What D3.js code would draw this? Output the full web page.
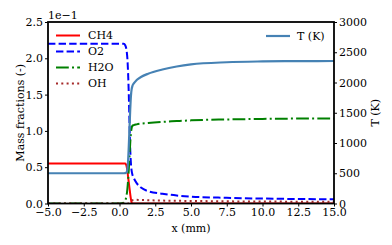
<!DOCTYPE html>
<html>
<head>
<meta charset="utf-8">
<script src="https://cdn.jsdelivr.net/npm/d3@7"></script>
<style>
  body { margin: 0; background: #fff; }
  text { font-family: "DejaVu Serif", serif; fill: #000; }
</style>
</head>
<body>
<div class="chart"></div>
<script>
// data
var xVals = [-5, 0, 0.3, 0.4, 0.5, 0.55, 0.6, 0.65, 0.7, 0.75, 0.8, 0.85, 0.9, 1.0, 1.2, 1.5, 2, 3, 4, 5, 7.5, 10, 12.5, 15];
var ch4 = [0.055, 0.055, 0.055, 0.055, 0.051, 0.045, 0.037, 0.029, 0.021, 0.013, 0.006, 0.001, 0, 0, 0, 0, 0, 0, 0, 0, 0, 0, 0, 0];
var o2  = [0.22, 0.22, 0.22, 0.218, 0.21, 0.2, 0.18, 0.15, 0.11, 0.075, 0.055, 0.045, 0.04, 0.035, 0.028, 0.022, 0.017, 0.0135, 0.011, 0.0095, 0.0078, 0.0068, 0.0062, 0.0058];
var h2o = [0, 0, 0.001, 0.004, 0.012, 0.02, 0.032, 0.047, 0.065, 0.083, 0.097, 0.104, 0.107, 0.108, 0.109, 0.110, 0.111, 0.1125, 0.1135, 0.1145, 0.1158, 0.1165, 0.117, 0.1172];
var oh  = [0, 0, 0, 0, 0, 0, 0, 0, 0.0005, 0.0015, 0.003, 0.004, 0.0045, 0.005, 0.005, 0.0048, 0.0045, 0.004, 0.0037, 0.0035, 0.003, 0.0027, 0.0025, 0.0023];
var temp = [500, 500, 500, 502, 515, 560, 700, 950, 1250, 1550, 1780, 1890, 1940, 1985, 2040, 2090, 2145, 2215, 2265, 2300, 2335, 2348, 2353, 2355];

var xTicks = [-5, -2.5, 0, 2.5, 5, 7.5, 10, 12.5, 15];
var yTicks = [0, 0.05, 0.1, 0.15, 0.2, 0.25];
var tTicks = [0, 500, 1000, 1500, 2000, 2500, 3000];

var species = [
  { name: "CH4", values: ch4, color: "#ff0000", dash: null },
  { name: "O2", values: o2, color: "#0000ff", dash: "7.4,3.2" },
  { name: "H2O", values: h2o, color: "#008000", dash: "12.8,3.2,2,3.2" },
  { name: "OH", values: oh, color: "#a52a2a", dash: "2,3.3" }
];

var svgWidth = 392, svgHeight = 245;
var margin = { top: 22, bottom: 41.5, left: 48, right: 58 };
var width = svgWidth - margin.left - margin.right;
var height = svgHeight - margin.top - margin.bottom;
var minus = s => s.replace("-", "\u2212");

var svg = d3.select(".chart").append("svg")
  .attr("width", svgWidth)
  .attr("height", svgHeight);

var chartGroup = svg.append("g")
  .attr("transform", `translate(${margin.left}, ${margin.top})`);

var xScale = d3.scaleLinear().domain([-5, 15]).range([0, width]);
var yScale = d3.scaleLinear().domain([0, 0.25]).range([height, 0]);
var tScale = d3.scaleLinear().domain([0, 3000]).range([height, 0]);

chartGroup.append("clipPath").attr("id", "clip")
  .append("rect").attr("width", width).attr("height", height);

var plot = chartGroup.append("g").attr("clip-path", "url(#clip)");

species.forEach(function(s) {
  var line = d3.line()
    .x((d, i) => xScale(xVals[i]))
    .y(d => yScale(d))
    .curve(d3.curveMonotoneX);
  plot.append("path")
    .datum(s.values)
    .attr("d", line)
    .attr("fill", "none")
    .attr("stroke", s.color)
    .attr("stroke-width", 2)
    .attr("stroke-dasharray", s.dash);
});

var tLine = d3.line()
  .x((d, i) => xScale(xVals[i]))
  .y(d => tScale(d))
  .curve(d3.curveMonotoneX);
plot.append("path")
  .datum(temp)
  .attr("d", tLine)
  .attr("fill", "none")
  .attr("stroke", "#4682b4")
  .attr("stroke-width", 2.2);

// axes
function styleAxis(g) {
  g.select(".domain").remove();
  g.selectAll(".tick line").attr("stroke", "#000").attr("stroke-width", 1);
  g.selectAll("text").attr("font-size", 11).attr("font-family", "DejaVu Serif").attr("fill", "#000");
}

chartGroup.append("g")
  .attr("transform", `translate(0, ${height})`)
  .call(d3.axisBottom(xScale).tickValues(xTicks).tickSize(3).tickPadding(2)
    .tickFormat(d => minus(d3.format(".1f")(d))))
  .call(styleAxis);

chartGroup.append("g")
  .call(d3.axisLeft(yScale).tickValues(yTicks).tickSize(3).tickPadding(2)
    .tickFormat(d => d3.format(".1f")(d * 10)))
  .call(styleAxis);

chartGroup.append("g")
  .attr("transform", `translate(${width}, 0)`)
  .call(d3.axisRight(tScale).tickValues(tTicks).tickSize(3).tickPadding(2)
    .tickFormat(d3.format("d")))
  .call(styleAxis);

chartGroup.append("rect")
  .attr("width", width).attr("height", height)
  .attr("fill", "none").attr("stroke", "#000").attr("stroke-width", 1.8);

// labels
svg.append("text")
  .attr("x", margin.left).attr("y", 19)
  .attr("font-size", 11)
  .text("1e\u22121");

svg.append("text")
  .attr("x", margin.left + width / 2).attr("y", 232)
  .attr("text-anchor", "middle").attr("font-size", 11)
  .text("x (mm)");

svg.append("text")
  .attr("transform", `translate(23.5, ${margin.top + height / 2}) rotate(-90)`)
  .attr("text-anchor", "middle").attr("font-size", 11)
  .text("Mass fractions (-)");

svg.append("text")
  .attr("transform", `translate(379, ${margin.top + height / 2}) rotate(-90)`)
  .attr("text-anchor", "middle").attr("font-size", 11)
  .text("T (K)");

// legends
var legend = svg.append("g");
species.forEach(function(s, i) {
  var y = 35.5 + i * 16;
  legend.append("line")
    .attr("x1", 56).attr("x2", 80).attr("y1", y).attr("y2", y)
    .attr("stroke", s.color).attr("stroke-width", 2)
    .attr("stroke-dasharray", s.dash);
  legend.append("text")
    .attr("x", 88).attr("y", y).attr("dy", "0.35em")
    .attr("font-size", 11)
    .text(s.name);
});

legend.append("line")
  .attr("x1", 266).attr("x2", 290).attr("y1", 36).attr("y2", 36)
  .attr("stroke", "#4682b4").attr("stroke-width", 2.2);
legend.append("text")
  .attr("x", 297).attr("y", 36).attr("dy", "0.35em")
  .attr("font-size", 11)
  .text("T (K)");
</script>
</body>
</html>
